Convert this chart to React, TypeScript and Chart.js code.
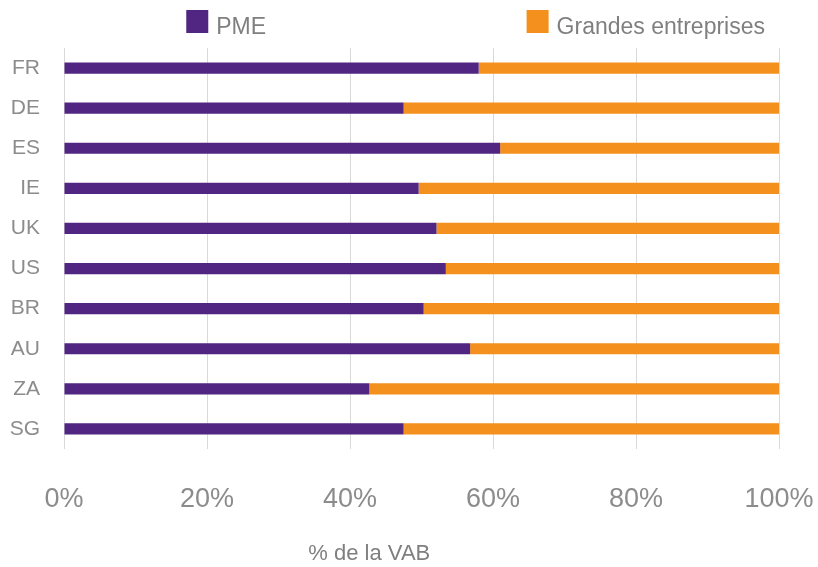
import React, { useEffect, useRef } from "react";
import { Chart, registerables } from "chart.js";

Chart.register(...registerables);

const countries = ["FR", "DE", "ES", "IE", "UK", "US", "BR", "AU", "ZA", "SG"];
const pme = [58.0, 47.5, 61.0, 49.6, 52.1, 53.4, 50.3, 56.8, 42.7, 47.5];
const grandes = [42.0, 52.5, 39.0, 50.4, 47.9, 46.6, 49.7, 43.2, 57.3, 52.5];
const xTicks = [0, 20, 40, 60, 80, 100];
const seriesNames = ["PME", "Grandes entreprises"];
const axisTitle = "% de la VAB";

const PURPLE = "#512682";
const ORANGE = "#F3901E";
const FONT = "'Liberation Sans', Arial, sans-serif";

const customLegendAndTitle = {
  id: "customLegendAndTitle",
  afterDraw(chart: any) {
    const ctx = chart.ctx;
    const ca = chart.chartArea;
    const w = ca.right - ca.left;
    ctx.save();
    const items = [
      { label: seriesNames[0], color: PURPLE, frac: 0.171 },
      { label: seriesNames[1], color: ORANGE, frac: 0.647 },
    ];
    ctx.font = `23px ${FONT}`;
    ctx.textBaseline = "alphabetic";
    ctx.textAlign = "left";
    items.forEach((it) => {
      const bx = ca.left + w * it.frac;
      ctx.fillStyle = it.color;
      ctx.fillRect(bx, 10, 22, 23);
      ctx.fillStyle = "#7f7f7f";
      ctx.fillText(it.label, bx + 30, 34);
    });
    ctx.font = `22px ${FONT}`;
    ctx.textAlign = "center";
    ctx.fillStyle = "#7f7f7f";
    ctx.fillText(axisTitle, ca.left + w * 0.427, 560);
    ctx.restore();
  },
};

export default function App() {
  const canvasRef = useRef<HTMLCanvasElement | null>(null);

  useEffect(() => {
    if (!canvasRef.current) return;
    const chart = new Chart(canvasRef.current, {
      type: "bar",
      data: {
        labels: countries,
        datasets: [
          {
            label: seriesNames[0],
            data: pme,
            backgroundColor: PURPLE,
            categoryPercentage: 1,
            barPercentage: 0.28,
          },
          {
            label: seriesNames[1],
            data: grandes,
            backgroundColor: ORANGE,
            categoryPercentage: 1,
            barPercentage: 0.28,
          },
        ],
      },
      options: {
        indexAxis: "y",
        animation: false,
        responsive: true,
        maintainAspectRatio: false,
        layout: { padding: { top: 48, right: 39, bottom: 48, left: 0 } },
        plugins: {
          legend: { display: false },
          title: { display: false },
          tooltip: { enabled: false },
        },
        scales: {
          x: {
            stacked: true,
            min: 0,
            max: 100,
            afterBuildTicks: (scale: any) => {
              scale.ticks = xTicks.map((v) => ({ value: v }));
            },
            afterFit: (scale: any) => {
              scale.height = 70;
              scale.paddingLeft = 0;
              scale.paddingRight = 0;
            },
            ticks: {
              padding: 34,
              color: "#8c8c8c",
              font: { family: FONT, size: 27 },
              callback: (v: any) => `${v}%`,
              maxRotation: 0,
            },
            grid: {
              color: "#d9d9d9",
              lineWidth: 1,
              drawTicks: false,
            },
            border: { display: false },
          },
          y: {
            stacked: true,
            afterFit: (scale: any) => {
              scale.width = 64;
              scale.paddingTop = 0;
              scale.paddingBottom = 0;
            },
            ticks: {
              padding: 24,
              color: "#8c8c8c",
              font: { family: FONT, size: 21 },
            },
            grid: { display: false, drawTicks: false },
            border: { display: false },
          },
        },
      },
      plugins: [customLegendAndTitle],
    });
    return () => chart.destroy();
  }, []);

  return (
    <div
      style={{
        position: "fixed",
        left: 0,
        top: 0,
        width: 818,
        height: 567,
        background: "#ffffff",
      }}
    >
      <canvas ref={canvasRef} />
    </div>
  );
}
